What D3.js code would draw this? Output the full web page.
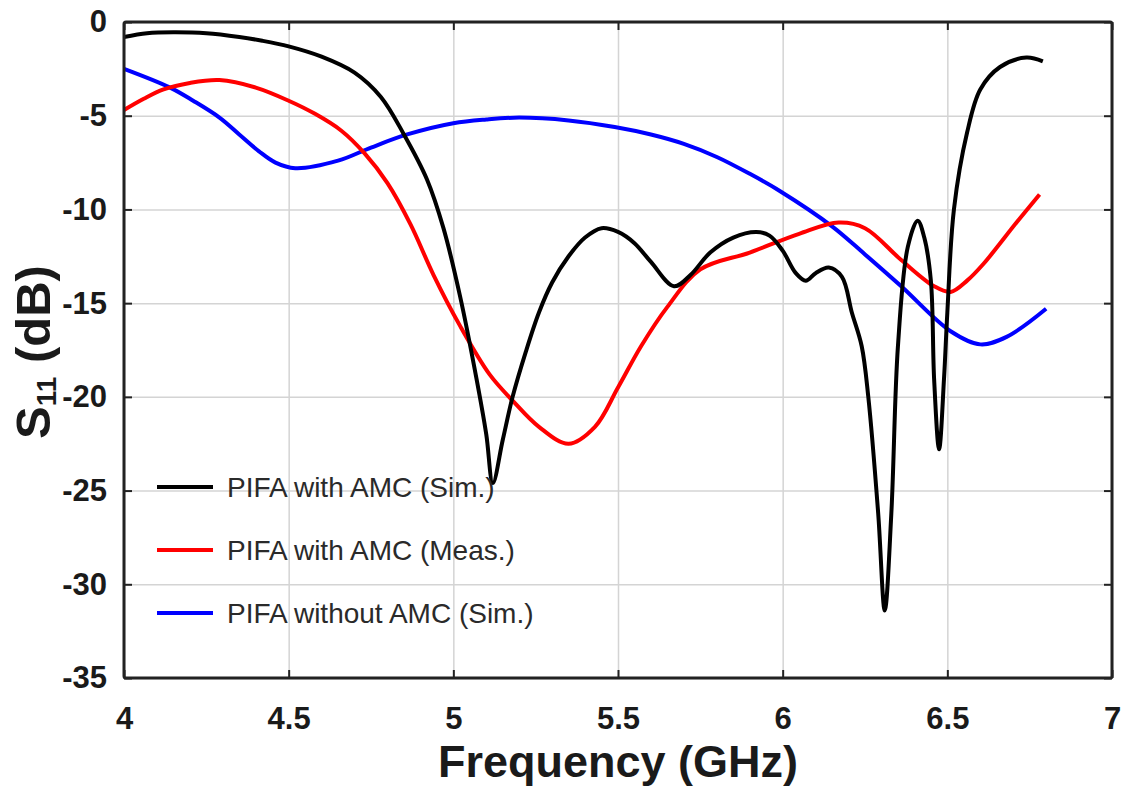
<!DOCTYPE html>
<html>
<head>
<meta charset="utf-8">
<script src="https://cdn.jsdelivr.net/npm/d3@7"></script>
<style>
  body { margin: 0; background: #fff; }
  #mainDiv { width: 1126px; height: 794px; }
</style>
</head>
<body>
<div id="mainDiv"></div>
<script>
'use strict';

// PIFA with AMC (Sim.)
var simFreq = [4.00, 4.07, 4.15, 4.25, 4.35, 4.42, 4.50, 4.60, 4.70, 4.78, 4.85, 4.92, 4.97, 5.02, 5.07, 5.10, 5.12,
               5.15, 5.18, 5.22, 5.26, 5.30, 5.35, 5.40, 5.45, 5.50, 5.55, 5.60, 5.67, 5.72, 5.78, 5.85, 5.92,
               5.96, 6.00, 6.04, 6.07, 6.10, 6.14, 6.18, 6.21, 6.24, 6.26, 6.29, 6.31, 6.33, 6.35, 6.38, 6.41,
               6.43, 6.45, 6.46, 6.475, 6.49, 6.50, 6.52, 6.56, 6.60, 6.66, 6.74, 6.79];
var simS11  = [-0.8, -0.6, -0.55, -0.6, -0.8, -1.0, -1.3, -1.85, -2.7, -4.0, -6.0, -8.4, -11.0, -14.6, -19.0, -22.0, -24.6,
               -22.3, -20.0, -17.6, -15.5, -13.9, -12.5, -11.5, -11.0, -11.2, -11.8, -12.8, -14.1, -13.5, -12.3, -11.5, -11.2,
               -11.4, -12.2, -13.4, -13.8, -13.4, -13.1, -13.6, -15.5, -17.3, -20.0, -26.2, -31.4, -26.2, -17.3, -12.0, -10.6,
               -11.5, -13.8, -19.1, -22.8, -19.0, -15.5, -10.0, -5.9, -3.6, -2.4, -1.9, -2.1];

// PIFA with AMC (Meas.)
var measFreq = [4.00, 4.06, 4.12, 4.20, 4.29, 4.40, 4.50, 4.58, 4.66, 4.73, 4.80, 4.87, 4.94, 5.02, 5.11, 5.18, 5.26,
                5.35, 5.43, 5.50, 5.57, 5.65, 5.75, 5.90, 6.05, 6.17, 6.25, 6.36, 6.46, 6.51, 6.56, 6.61, 6.71, 6.78];
var measS11  = [-4.7, -4.1, -3.6, -3.25, -3.1, -3.5, -4.2, -4.9, -5.8, -7.0, -8.6, -10.8, -13.5, -16.2, -18.8, -20.2, -21.6,
                -22.5, -21.6, -19.5, -17.3, -15.2, -13.2, -12.3, -11.3, -10.7, -11.0, -12.7, -14.1, -14.4, -13.8, -12.9, -10.7, -9.2];

// PIFA without AMC (Sim.)
var noAmcFreq = [4.00, 4.14, 4.21, 4.29, 4.35, 4.41, 4.46, 4.52, 4.65, 4.75, 4.86, 5.00, 5.10, 5.20, 5.35, 5.49,
                 5.60, 5.70, 5.80, 5.90, 5.99, 6.15, 6.25, 6.36, 6.51, 6.60, 6.68, 6.80];
var noAmcS11  = [-2.5, -3.5, -4.2, -5.1, -6.0, -6.9, -7.5, -7.8, -7.4, -6.7, -6.0, -5.4, -5.2, -5.1, -5.25, -5.6,
                 -6.0, -6.5, -7.2, -8.1, -9.0, -10.9, -12.4, -14.1, -16.5, -17.2, -16.8, -15.3];

var xTicks = [4, 4.5, 5, 5.5, 6, 6.5, 7];
var yTicks = [0, -5, -10, -15, -20, -25, -30, -35];
var legendLabels = ['PIFA with AMC (Sim.)', 'PIFA with AMC (Meas.)', 'PIFA without AMC (Sim.)'];
var seriesColors = ['#000000', '#ff0000', '#0000ff'];

var chart = {};

chart.margin = {top: 22, bottom: 116, left: 124, right: 14};
chart.width = 1126 - chart.margin.left - chart.margin.right;
chart.height = 794 - chart.margin.top - chart.margin.bottom;

chart.xScale = d3.scaleLinear().domain([4, 7]).range([0, chart.width]);
chart.yScale = d3.scaleLinear().domain([-35, 0]).range([chart.height, 0]);

// plain hyphen for negatives, like the original figure
chart.fmt = function(d) { return String(d); };

chart.series = function() {
    var pairs = [[simFreq, simS11], [measFreq, measS11], [noAmcFreq, noAmcS11]];
    return pairs.map(function(p, i) {
        return {
            name: legendLabels[i],
            color: seriesColors[i],
            values: p[0].map(function(f, j) { return {f: f, v: p[1][j]}; })
        };
    });
};

chart.start = function() {
    var svg = d3.select('#mainDiv').append('svg')
        .attr('width', 1126)
        .attr('height', 794)
        .style('font-family', '"Liberation Sans", Arial, sans-serif');

    var g = svg.append('g')
        .attr('transform', 'translate(' + chart.margin.left + ',' + chart.margin.top + ')');

    // grid
    g.append('g')
        .attr('class', 'grid')
        .attr('transform', 'translate(0,' + chart.height + ')')
        .call(d3.axisBottom(chart.xScale).tickValues(xTicks).tickSize(-chart.height).tickFormat(''));
    g.append('g')
        .attr('class', 'grid')
        .call(d3.axisLeft(chart.yScale).tickValues(yTicks).tickSize(-chart.width).tickFormat(''));
    g.selectAll('.grid .domain').remove();
    g.selectAll('.grid line').attr('stroke', '#d4d4d4').attr('stroke-width', 1.5);

    // axes with inward ticks
    var xBottom = g.append('g')
        .attr('class', 'ax')
        .attr('transform', 'translate(0,' + chart.height + ')')
        .call(d3.axisBottom(chart.xScale).tickValues(xTicks).tickSize(-8).tickPadding(29).tickFormat(chart.fmt));
    var yLeft = g.append('g')
        .attr('class', 'ax')
        .call(d3.axisLeft(chart.yScale).tickValues(yTicks).tickSize(-8).tickPadding(17).tickFormat(chart.fmt));
    g.append('g')
        .attr('class', 'ax')
        .call(d3.axisTop(chart.xScale).tickValues(xTicks).tickSize(-8).tickFormat(''));
    g.append('g')
        .attr('class', 'ax')
        .attr('transform', 'translate(' + chart.width + ',0)')
        .call(d3.axisRight(chart.yScale).tickValues(yTicks).tickSize(-8).tickFormat(''));

    g.selectAll('.domain').remove();
    g.selectAll('.ax .tick line').attr('stroke', '#222').attr('stroke-width', 2);
    [xBottom, yLeft].forEach(function(a) {
        a.selectAll('text')
            .attr('fill', '#1a1a1a')
            .style('font-size', '31px')
            .style('font-weight', 'bold');
    });

    // lines
    var line = d3.line()
        .x(function(d) { return chart.xScale(d.f); })
        .y(function(d) { return chart.yScale(d.v); })
        .curve(d3.curveCatmullRom.alpha(0.5));

    var data = chart.series();
    g.selectAll('.series')
        .data(data.slice().reverse())
        .enter().append('path')
        .attr('class', 'series')
        .attr('fill', 'none')
        .attr('stroke', function(d) { return d.color; })
        .attr('stroke-width', 4)
        .attr('stroke-linejoin', 'round')
        .attr('d', function(d) { return line(d.values); });

    // frame
    g.append('rect')
        .attr('width', chart.width)
        .attr('height', chart.height)
        .attr('rx', 2)
        .attr('fill', 'none')
        .attr('stroke', '#222')
        .attr('stroke-width', 3);

    // legend
    var legend = g.selectAll('.legend')
        .data(data)
        .enter().append('g')
        .attr('class', 'legend')
        .attr('transform', function(d, i) { return 'translate(33,' + (465 + i * 63) + ')'; });
    legend.append('line')
        .attr('x1', 0).attr('x2', 56)
        .attr('stroke', function(d) { return d.color; })
        .attr('stroke-width', 4);
    legend.append('text')
        .attr('x', 70)
        .attr('dy', '0.36em')
        .attr('fill', '#2a2a2a')
        .style('font-size', '28px')
        .text(function(d) { return d.name; });

    // axis titles
    svg.append('text')
        .attr('x', chart.margin.left + chart.width / 2)
        .attr('y', 777)
        .attr('text-anchor', 'middle')
        .attr('fill', '#1a1a1a')
        .style('font-size', '45px')
        .style('font-weight', 'bold')
        .text('Frequency (GHz)');

    var yTitle = svg.append('text')
        .attr('transform', 'translate(50,352) rotate(-90)')
        .attr('text-anchor', 'middle')
        .attr('fill', '#1a1a1a')
        .style('font-size', '49px')
        .style('font-weight', 'bold');
    yTitle.append('tspan').text('S');
    yTitle.append('tspan').attr('dy', 6).style('font-size', '28px').text('11');
    yTitle.append('tspan').attr('dy', -6).text(' (dB)');
};

window.onload = chart.start;
</script>
</body>
</html>
